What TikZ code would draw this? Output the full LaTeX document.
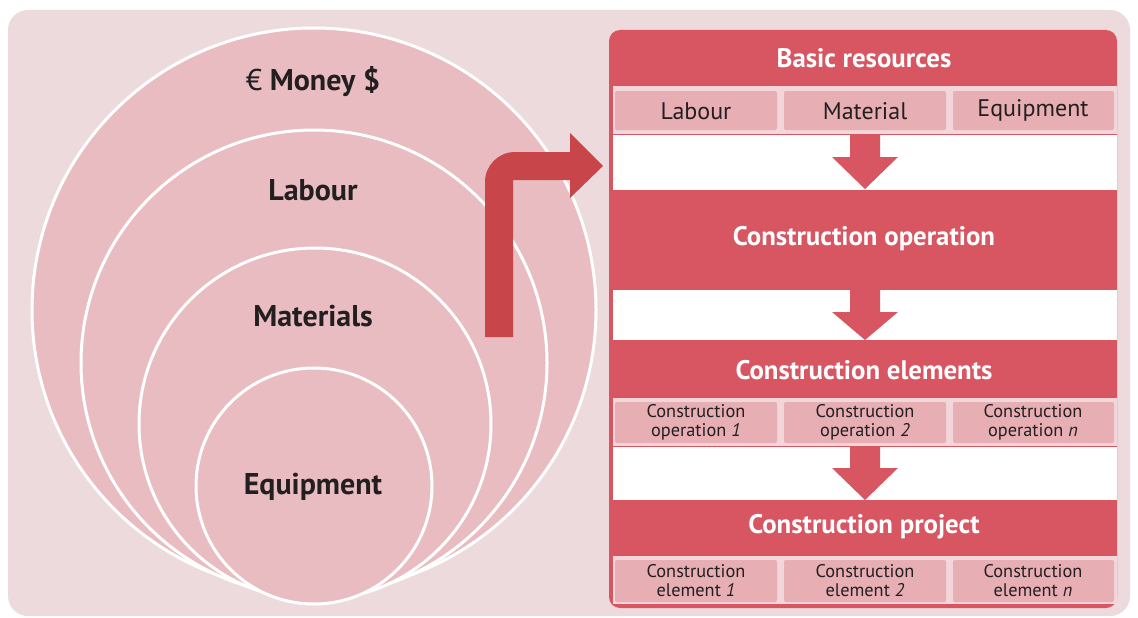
\documentclass[tikz,border=0pt]{standalone}
\usepackage{fontspec}
\setmainfont{PT Sans}
\definecolor{bgpink}{RGB}{237,218,221}
\definecolor{circpink}{RGB}{232,188,192}
\definecolor{panelred}{RGB}{215,86,98}
\definecolor{cellpink}{RGB}{231,174,180}
\definecolor{rowpink}{RGB}{242,214,217}
\definecolor{arrowred}{RGB}{200,69,73}
\definecolor{txt}{RGB}{35,31,32}
\tikzset{
  ring/.style={fill=circpink, draw=white, line width=3pt},
  circtext/.style={text=txt, font=\fontsize{30}{34}\selectfont\bfseries, inner sep=0pt},
  headtext/.style={text=white, font=\fontsize{26.8}{30}\selectfont\bfseries, inner sep=0pt},
  cellbox/.style={fill=cellpink, rounded corners=2pt, draw=none},
  celltext/.style={text=txt, font=\fontsize{24}{27}\selectfont, inner sep=0pt, align=center},
  celltwo/.style={text=txt, font=\fontsize{18.3}{19}\selectfont, inner sep=0pt, align=center},
  whiteband/.style={fill=white, draw=none},
  rowband/.style={fill=rowpink, draw=none},
  downarr/.style={fill=panelred, draw=none}
}
\newcommand{\dnarrow}[3]{%
  \fill[downarr] (850,#1) -- (880,#1) -- (880,#2) -- (898,#2) -- (865,#3) -- (832,#2) -- (850,#2) -- cycle;}
\begin{document}
\begin{tikzpicture}[x=1pt, y=-1pt]
\useasboundingbox (0,0) rectangle (1138,618);
\fill[white] (0,0) rectangle (1138,618);
% background
\fill[bgpink, rounded corners=20pt] (8,10) rectangle (1130,616);
% circles
\draw[ring] (314,310) circle[radius=282pt];
\draw[ring] (314,363) circle[radius=233pt];
\draw[ring] (315,424) circle[radius=176pt];
\draw[ring] (314,486) circle[radius=118pt];
\node[circtext] (money) at (313,82) {{\mdseries €} Money \$};
\node[circtext] (labour) at (313,190) {Labour};
\node[circtext] (materials) at (313,316) {Materials};
\node[circtext] (equipment) at (313,487) {Equipment};
% big arrow
\fill[arrowred] (485,337) -- (485,182) arc[start angle=180, end angle=90, radius=30pt]
  -- (570,152) -- (570,133) -- (603,166) -- (570,198) -- (570,180) -- (513,180) -- (513,337) -- cycle;
% panel
\fill[panelred, rounded corners=11pt] (609,30) rectangle (1117,608);
\fill[rowband] (613,86) rectangle (1117,134);
\fill[whiteband] (613,135) rectangle (1117,190);
\fill[whiteband] (613,290) rectangle (1117,340);
\fill[rowband] (613,398) rectangle (1117,446);
\fill[whiteband] (613,447) rectangle (1117,500);
\fill[rowband] (613,556) rectangle (1117,604);
% cells
\foreach \xa/\xb/\nm in {615/777/a, 784/946/b, 953/1114/c}{
  \fill[cellbox] (\xa,91) rectangle (\xb,130);
  \fill[cellbox] (\xa,402) rectangle (\xb,443);
  \fill[cellbox] (\xa,560) rectangle (\xb,602);
}
\node[headtext] (basic) at (864,58) {Basic resources};
\node[celltext] (r1a) at (696,111) {Labour};
\node[celltext] (r1b) at (865,111) {Material};
\node[celltext] (r1c) at (1033,110) {Equipment};
\node[headtext] (oper) at (864,239) {Construction operation};
\node[headtext] (elem) at (864,370) {Construction elements};
\node[celltwo] (r2a) at (696,422) {Construction\\operation \textit{1}};
\node[celltwo] (r2b) at (865,422) {Construction\\operation \textit{2}};
\node[celltwo] (r2c) at (1033,422) {Construction\\operation \textit{n}};
\node[headtext] (proj) at (864,527) {Construction project};
\node[celltwo] (r3a) at (696,581) {Construction\\element \textit{1}};
\node[celltwo] (r3b) at (865,581) {Construction\\element \textit{2}};
\node[celltwo] (r3c) at (1033,581) {Construction\\element \textit{n}};
% down arrows
\dnarrow{135}{157}{189}
\dnarrow{290}{312}{340}
\dnarrow{447}{468}{500}
\end{tikzpicture}
\end{document}
